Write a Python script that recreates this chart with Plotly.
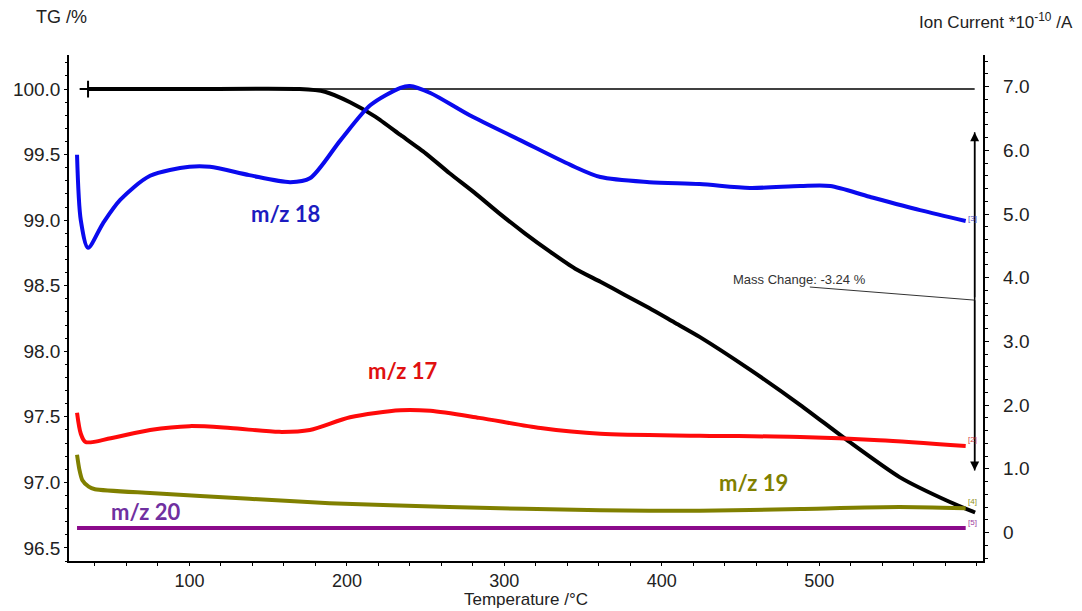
import plotly.graph_objects as go

# ---------------- data ----------------
tg_temp = [35.6, 100, 170, 186, 202, 218, 234, 250, 265, 281, 297, 313, 329, 345, 361,
           376.5, 392, 408, 424, 456, 488, 519, 551, 583, 599]
tg_val = [100.0, 100.0, 100.0, 99.98, 99.90, 99.79, 99.65, 99.51, 99.36, 99.21, 99.05,
          98.90, 98.76, 98.63, 98.53, 98.43, 98.33, 98.22, 98.11, 97.86, 97.59, 97.31,
          97.04, 96.85, 96.77]

mz18_temp = [28.6, 31, 35.6, 45, 56, 75, 100, 113, 138, 164, 176.5, 196, 215, 234, 240,
             253, 278, 310, 342, 361, 392, 424, 456, 488, 507, 532, 564, 593]
mz18_val = [5.93, 4.9, 4.47, 4.85, 5.22, 5.60, 5.74, 5.74, 5.61, 5.50, 5.56, 6.16, 6.71,
            6.98, 7.01, 6.90, 6.55, 6.16, 5.77, 5.58, 5.50, 5.47, 5.41, 5.44, 5.44, 5.27,
            5.06, 4.89]

mz17_temp = [28.6, 31, 34, 50, 75, 100, 126, 157, 176.5, 202, 234, 253, 284, 323, 361,
             424, 488, 538, 593]
mz17_val = [1.88, 1.55, 1.42, 1.48, 1.61, 1.67, 1.64, 1.58, 1.61, 1.81, 1.92, 1.91, 1.80,
            1.64, 1.55, 1.52, 1.50, 1.45, 1.36]

mz19_temp = [28.6, 30, 32, 36, 40, 75, 138, 189, 265, 361, 424, 488, 551, 593]
mz19_val = [1.22, 1.0, 0.82, 0.72, 0.68, 0.62, 0.53, 0.46, 0.40, 0.35, 0.34, 0.37, 0.40,
            0.38]

mz20_temp = [28.6, 150, 300, 450, 593]
mz20_val = [0.07, 0.07, 0.07, 0.07, 0.07]

x_ticks = [100, 200, 300, 400, 500]
tg_ticks = [96.5, 97.0, 97.5, 98.0, 98.5, 99.0, 99.5, 100.0]
ic_ticks = [0, 1, 2, 3, 4, 5, 6, 7]
ic_ticktext = ["0", "1.0", "2.0", "3.0", "4.0", "5.0", "6.0", "7.0"]

mass_start_temp = 35.6
mass_end_temp = 598.7
mass_start = 100.0
mass_change = -3.24
arrow_top = 99.67
arrow_bottom = 97.09

# ---------------- figure ----------------
fig = go.Figure()

FONT = "Liberation Sans, Arial, sans-serif"
LBL = "Lato, Open Sans, sans-serif"
NB = "\u00a0\u00a0"

fig.add_trace(go.Scatter(x=mz20_temp, y=mz20_val, yaxis="y2", mode="lines",
                         line=dict(color="#8b0a8b", width=4), hoverinfo="skip"))
fig.add_trace(go.Scatter(x=mz19_temp, y=mz19_val, yaxis="y2", mode="lines",
                         line=dict(color="#808000", width=4, shape="spline", smoothing=0.6),
                         hoverinfo="skip"))
fig.add_trace(go.Scatter(x=mz17_temp, y=mz17_val, yaxis="y2", mode="lines",
                         line=dict(color="#ff0a0a", width=4, shape="spline", smoothing=0.8),
                         hoverinfo="skip"))
fig.add_trace(go.Scatter(x=mz18_temp, y=mz18_val, yaxis="y2", mode="lines",
                         line=dict(color="#0a0aee", width=4, shape="spline", smoothing=0.8),
                         hoverinfo="skip"))
# mass-change reference line at 100 %
fig.add_trace(go.Scatter(x=[mass_start_temp, mass_end_temp], y=[mass_start, mass_start],
                         mode="lines", line=dict(color="black", width=1.5), hoverinfo="skip"))
fig.add_trace(go.Scatter(x=tg_temp, y=tg_val, mode="lines",
                         line=dict(color="black", width=4, shape="spline", smoothing=0.6),
                         hoverinfo="skip"))
fig.add_trace(go.Scatter(x=[mass_start_temp], y=[mass_start], mode="markers",
                         marker=dict(symbol="cross-thin", size=12,
                                     line=dict(color="black", width=2)),
                         hoverinfo="skip"))
# vertical mass change double arrow
fig.add_trace(go.Scatter(x=[mass_end_temp, mass_end_temp], y=[arrow_top, arrow_bottom],
                         mode="lines", line=dict(color="black", width=1.5), hoverinfo="skip"))

annotations = []
for yv in (arrow_top, arrow_bottom):
    annotations.append(dict(x=mass_end_temp, y=yv, xref="x", yref="y",
                            ax=mass_end_temp, ay=98.4, axref="x", ayref="y",
                            showarrow=True, arrowhead=2, arrowsize=1.2, arrowwidth=1.5,
                            arrowcolor="black", text=""))
# leader line for mass change label
fig.add_shape(type="line", x0=494, y0=98.49, x1=mass_end_temp, y1=98.39,
              xref="x", yref="y", line=dict(color="#333333", width=1))
annotations.append(dict(x=444, y=98.55, xref="x", yref="y", xanchor="left",
                        showarrow=False, text=f"Mass Change: {mass_change:.2f} %",
                        font=dict(family=FONT, size=13, color="#333333")))

# series labels
for txt, xv, yv, col in [("m/z 18", 161, 5.01, "#1c1cc0"),
                         ("m/z 17", 235, 2.55, "#e01010"),
                         ("m/z 19", 458, 0.78, "#808000"),
                         ("m/z 20", 72, 0.33, "#7030a0")]:
    annotations.append(dict(x=xv, y=yv, xref="x", yref="y2", showarrow=False, text=txt,
                            font=dict(family=LBL, size=22, color=col, weight="bold")))

# small curve index tags
for txt, yv, col in [("[3]", 4.93, "#5050c0"), ("[2]", 1.46, "#d04040"),
                     ("[4]", 0.48, "#909020"), ("[5]", 0.16, "#a040a0")]:
    annotations.append(dict(x=593, y=yv, xref="x", yref="y2", xanchor="left",
                            showarrow=False, text=txt,
                            font=dict(family=FONT, size=8, color=col)))

# axis titles
annotations.append(dict(x=-0.0077, y=1.075, xref="paper", yref="paper", showarrow=False,
                        xanchor="center", yanchor="middle",
                        text="TG /%", font=dict(family=FONT, size=18, color="#222222")))
annotations.append(dict(x=1.1007, y=1.068, xref="paper", yref="paper", xanchor="right",
                        yanchor="middle", showarrow=False,
                        text="Ion Current *10<sup>-10</sup> /A",
                        font=dict(family=FONT, size=17, color="#222222")))
annotations.append(dict(x=0.50, y=-0.077, xref="paper", yref="paper", showarrow=False,
                        xanchor="center", yanchor="middle",
                        text="Temperature /°C",
                        font=dict(family=FONT, size=17, color="#222222")))

# The page body has an 8px margin, so the figure is sized/offset to compensate.
fig.update_layout(
    width=1074, height=603,
    margin=dict(l=61, r=99, t=47, b=50, autoexpand=False),
    paper_bgcolor="white", plot_bgcolor="white",
    showlegend=False,
    annotations=annotations,
    font=dict(family=FONT, size=19, color="#222222"),
    xaxis=dict(range=[23.5, 604], tickvals=x_ticks, showgrid=False, zeroline=False,
               automargin=False, tickfont=dict(size=18),
               showline=True, linecolor="black", linewidth=1.5,
               ticks="outside", ticklen=3, tickcolor="black",
               minor=dict(dtick=20, tick0=0, ticks="outside", ticklen=3, tickcolor="black")),
    yaxis=dict(range=[96.40, 100.26], tickvals=tg_ticks, tickformat=".1f",
               showgrid=False, zeroline=False, automargin=False,
               showline=True, linecolor="black", linewidth=1.5,
               ticks="outside", ticklen=3, tickcolor="black",
               minor=dict(dtick=0.1, tick0=0, ticks="outside", ticklen=2, tickcolor="black")),
    yaxis2=dict(range=[-0.447, 7.496], tickvals=ic_ticks,
                ticktext=[NB + t for t in ic_ticktext],
                overlaying="y", side="right", showgrid=False, zeroline=False,
                automargin=False,
                showline=True, linecolor="black", linewidth=1.5,
                ticks="outside", ticklen=4, tickcolor="black",
                minor=dict(dtick=0.2, tick0=0, ticks="outside", ticklen=3, tickcolor="black")),
)

fig.write_html("out.html")
